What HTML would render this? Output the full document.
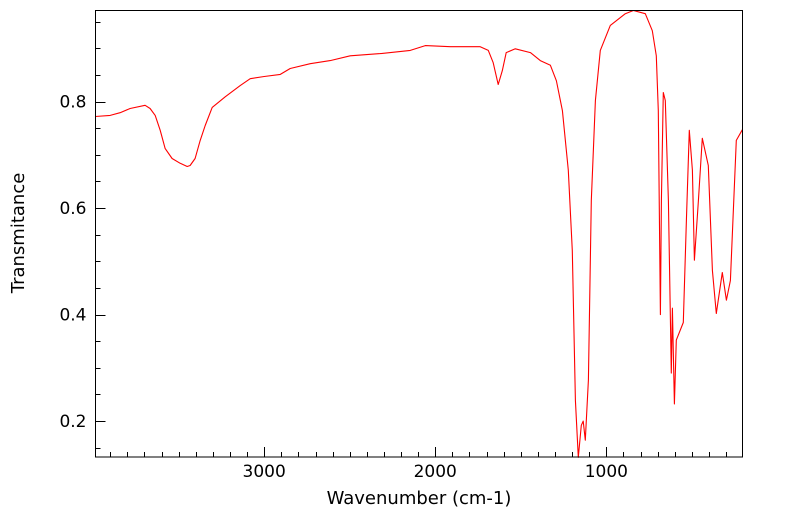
<!DOCTYPE html>
<html><head><meta charset="utf-8"><style>
html,body{margin:0;padding:0;background:#fff;}
svg{display:block;font-family:"DejaVu Sans","Liberation Sans",sans-serif;}
</style></head><body>
<svg id="chart" width="799" height="516">
<g id="grid"></g>
<path id="series" fill="none" stroke="#ff0000" stroke-width="1.1" stroke-linejoin="round"></path>
<rect x="95.5" y="10.5" width="647" height="446.5" fill="none" stroke="#000" stroke-width="1"></rect>
<g id="axes"></g>
<text x="419" y="504" font-size="18" text-anchor="middle">Wavenumber (cm-1)</text>
<text x="24" y="233" font-size="18" text-anchor="middle" transform="rotate(-90 24 233)">Transmitance</text>
</svg>
<script>
const wavenumbers=[3988,3900,3842,3784,3696,3667,3637,3608,3579,3538,3491,3450,3433,3404,3374,3345,3304,3228,3140,3082,3000,2906,2848,2731,2614,2497,2322,2146,2058,1912,1737,1690,1661,1632,1608,1585,1532,1444,1386,1327,1292,1257,1222,1199,1181,1164,1146,1135,1123,1105,1088,1064,1035,977,889,842,772,731,708,696,684,678,667,655,637,620,614,602,591,550,532,515,497,485,462,439,404,380,357,322,298,275,240,205];
const transmittance=[0.772,0.774,0.779,0.787,0.793,0.787,0.774,0.746,0.712,0.693,0.684,0.678,0.680,0.693,0.727,0.755,0.789,0.809,0.830,0.843,0.847,0.851,0.862,0.871,0.877,0.886,0.890,0.896,0.905,0.903,0.903,0.896,0.873,0.832,0.858,0.892,0.899,0.892,0.877,0.868,0.839,0.783,0.671,0.520,0.239,0.132,0.192,0.200,0.164,0.277,0.614,0.802,0.896,0.943,0.965,0.971,0.965,0.933,0.886,0.783,0.400,0.614,0.817,0.802,0.614,0.290,0.412,0.232,0.352,0.385,0.577,0.746,0.671,0.502,0.614,0.731,0.680,0.483,0.402,0.479,0.427,0.464,0.727,0.747];
const xTicks=[3000,2000,1000];
const yTicks=[0.2,0.4,0.6,0.8];
const X0=95.5,X1=742.5,Y0=10.5,Y1=457;
const wnMax=3986,wnMin=204,tMax=0.971,tMin=0.1325;
function sx(w){return X0+(wnMax-w)/(wnMax-wnMin)*(X1-X0);}
function sy(t){return Y0+(tMax-t)/(tMax-tMin)*(Y1-Y0);}
const NS="http://www.w3.org/2000/svg";
const axes=document.getElementById('axes');
function line(x1,y1,x2,y2,name){const l=document.createElementNS(NS,'line');
l.setAttribute('x1',x1);l.setAttribute('y1',y1);l.setAttribute('x2',x2);l.setAttribute('y2',y2);
l.setAttribute('stroke','#000');l.setAttribute('stroke-width','1');


axes.appendChild(l);}
for(let w=3900;w>=wnMin;w-=100){const x=Math.round(sx(w))+0.5;const major=w%1000===0;
line(x,Y1,x,Y1-(major?10:5),'x-tick');}
for(let t=0.15;t<tMax;t+=0.05){t=Math.round(t*100)/100;const y=Math.round(sy(t))+0.5;const major=Math.abs(t*10-Math.round(t*10))<1e-6&&Math.round(t*10)%2===0;
line(X0,y,X0+(major?10:5),y,'y-tick');}
xTicks.forEach(w=>{const t=document.createElementNS(NS,'text');
t.setAttribute('x',sx(w));t.setAttribute('y',Y1+20);t.setAttribute('font-size','17');t.setAttribute('text-anchor','middle');
t.textContent=w;


axes.appendChild(t);});
yTicks.forEach(v=>{const t=document.createElementNS(NS,'text');
t.setAttribute('x',X0-9);t.setAttribute('y',sy(v)+6);t.setAttribute('font-size','17');t.setAttribute('text-anchor','end');
t.textContent=v.toFixed(1);


axes.appendChild(t);});
let d='';
wavenumbers.forEach((w,i)=>{d+=(i?'L':'M')+sx(w).toFixed(1)+' '+sy(transmittance[i]).toFixed(1);});
document.getElementById('series').setAttribute('d',d);
</script>
</body></html>
